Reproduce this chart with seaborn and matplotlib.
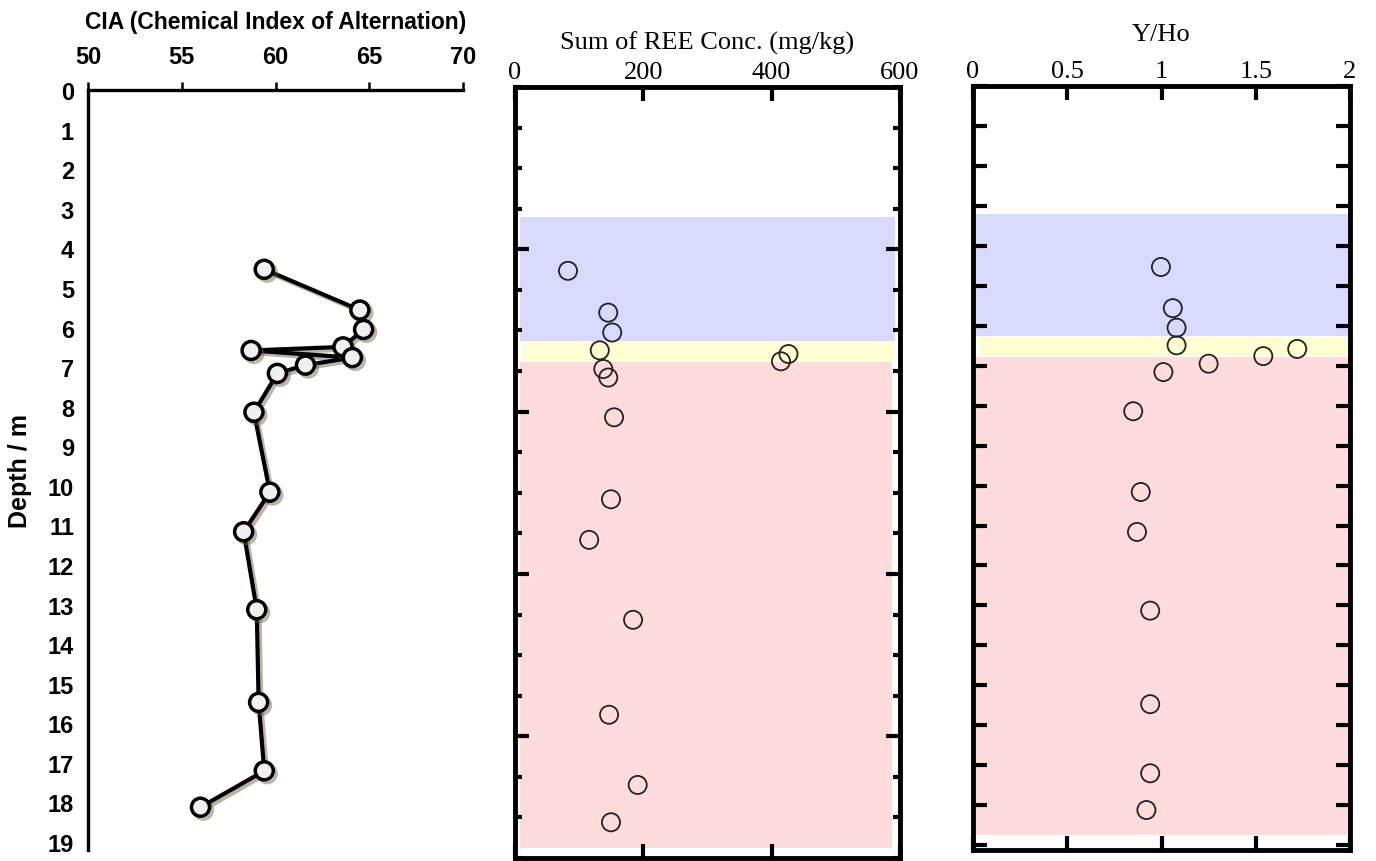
import numpy as np
import matplotlib
matplotlib.use("Agg")
import matplotlib.pyplot as plt
import matplotlib.patheffects as pe
from matplotlib.ticker import FixedLocator
import seaborn as sns
import pandas as pd

# Sample depths (m) shared by the three profiles
depth = [4.53, 5.56, 6.05, 6.49, 6.58, 6.76, 6.95, 7.16, 8.14,
         10.16, 11.16, 13.13, 15.47, 17.20, 18.12]

# Chemical Index of Alteration
cia = [59.4, 64.5, 64.7, 63.6, 58.7, 64.1, 61.6, 60.1, 58.85,
       59.7, 58.3, 59.0, 59.1, 59.4, 56.0]

# Sum of REE concentration (mg/kg)
ree = [82.6, 145.3, 151.5, 132.1, 426.2, 414.5, 137.6, 145.3, 154.4,
       149.6, 115.6, 184.0, 146.6, 191.2, 149.6]

# Y/Ho ratio
y_ho = [0.997, 1.06, 1.08, 1.08, 1.72, 1.54, 1.25, 1.01, 0.85,
        0.89, 0.87, 0.94, 0.94, 0.94, 0.92]

# Depth zones (top, bottom) and fills
zone_tops = [3.2, 6.28, 6.77]
zone_bottoms = [6.26, 6.74, 18.75]
zone_colors = ["#d9d9ff", "#ffffd2", "#ffdcdc"]

cia_ticks = [50, 55, 60, 65, 70]
ree_ticks = [0, 200, 400, 600]
yho_ticks = [0, 0.5, 1, 1.5, 2]
yho_labels = ["0", "0.5", "1", "1.5", "2"]
depth_ticks = list(range(0, 20))

sns.set_theme(style="white")
plt.rcParams["axes.facecolor"] = "white"

W, H = 1376, 862
fig = plt.figure(figsize=(W / 100, H / 100), dpi=100)


def frac(x0, y0, x1, y1):
    return [x0 / W, 1 - y1 / H, (x1 - x0) / W, (y1 - y0) / H]


sans = ["Liberation Sans", "DejaVu Sans"]
serif = ["Liberation Serif", "DejaVu Serif"]

df = pd.DataFrame({"depth": depth, "cia": cia, "ree": ree, "yho": y_ho})

# ---------- CIA profile ----------
ax1 = fig.add_axes(frac(88, 91, 463, 851))
sns.lineplot(data=df, x="cia", y="depth", orient="y", sort=True, ax=ax1,
             color="black", lw=3, marker="o", markersize=13,
             markerfacecolor="#f0f0f0", markeredgecolor="black",
             markeredgewidth=2.5)
for ln in ax1.lines:
    ln.set_path_effects([pe.SimpleLineShadow(offset=(2, -2), shadow_color="#6b5a3c",
                                             alpha=0.45), pe.Normal()])
ax1.set_xlim(50, 70)
ax1.set_ylim(19.2, 0)
ax1.xaxis.set_ticks_position("top")
ax1.xaxis.set_label_position("top")
ax1.set_xticks(cia_ticks)
ax1.set_yticks(depth_ticks)
for s in ["right", "bottom"]:
    ax1.spines[s].set_visible(False)
for s in ["top", "left"]:
    ax1.spines[s].set_linewidth(2.4)
    ax1.spines[s].set_color("black")
ax1.tick_params(axis="both", direction="out", length=6, width=1.8, color="black",
                pad=4, labelcolor="black")
ax1.tick_params(axis="x", pad=10)
for t in ax1.get_xticklabels() + ax1.get_yticklabels():
    t.set_fontfamily(sans)
    t.set_fontweight("bold")
    t.set_fontsize(17)
ax1.set_xlabel("CIA (Chemical Index of Alternation)", fontsize=16.5, fontweight="bold",
               family=sans, labelpad=12, color="black")
ax1.set_ylabel("Depth / m", fontsize=18, fontweight="bold", family=sans, labelpad=11,
               color="black")


def zone_panel(ax, xmins, xmaxs):
    for top, bot, col, a, b in zip(zone_tops, zone_bottoms, zone_colors, xmins, xmaxs):
        ax.axhspan(top, bot, xmin=a, xmax=b, color=col, lw=0, zorder=0)
    for s in ax.spines.values():
        s.set_linewidth(3.5)
        s.set_color("black")
        s.set_zorder(5)
    ax.xaxis.set_ticks_position("both")
    ax.yaxis.set_ticks_position("both")
    ax.xaxis.set_label_position("top")
    ax.tick_params(axis="x", which="both", labeltop=True, labelbottom=False,
                   direction="in", length=10, width=3, color="black",
                   labelsize=19, pad=3, labelcolor="black")
    ax.tick_params(axis="y", which="both", labelleft=False, labelright=False,
                   direction="in", width=3, color="black")
    for t in ax.get_xticklabels():
        t.set_fontfamily(serif)


# ---------- Sum of REE ----------
ax2 = fig.add_axes(frac(515, 88, 900, 859))
sns.scatterplot(data=df, x="ree", y="depth", ax=ax2, marker="o", s=170,
                facecolors="none", edgecolor="#222222", linewidth=1.3, zorder=3)
ax2.set_xlim(0, 600)
ax2.set_ylim(19, 0)
ax2.set_xticks(ree_ticks)
ax2.yaxis.set_major_locator(FixedLocator([4, 8, 12, 16]))
ax2.yaxis.set_minor_locator(FixedLocator(depth_ticks))
zone_panel(ax2, [0.013, 0.018, 0.013], [0.987, 0.985, 0.98])
ax2.tick_params(axis="y", which="major", length=10)
ax2.tick_params(axis="y", which="minor", length=5)
ax2.set_xlabel("Sum of REE Conc. (mg/kg)", fontsize=19, family=serif, labelpad=9,
               color="black")
ax2.set_ylabel("")

# ---------- Y/Ho ----------
ax3 = fig.add_axes(frac(973, 87, 1350, 851))
sns.scatterplot(data=df, x="yho", y="depth", ax=ax3, marker="o", s=170,
                facecolors="none", edgecolor="#222222", linewidth=1.3, zorder=3)
ax3.set_xlim(0, 2)
ax3.set_ylim(19.12, 0)
ax3.set_xticks(yho_ticks)
ax3.set_xticklabels(yho_labels)
ax3.set_yticks(depth_ticks)
zone_panel(ax3, [0.005, 0.017, 0.008], [1.0, 1.0, 0.995])
ax3.tick_params(axis="y", which="major", length=10)
ax3.set_xlabel("Y/Ho", fontsize=19, family=serif, labelpad=14, color="black")
ax3.set_ylabel("")

fig.savefig("out.png", dpi=100)
